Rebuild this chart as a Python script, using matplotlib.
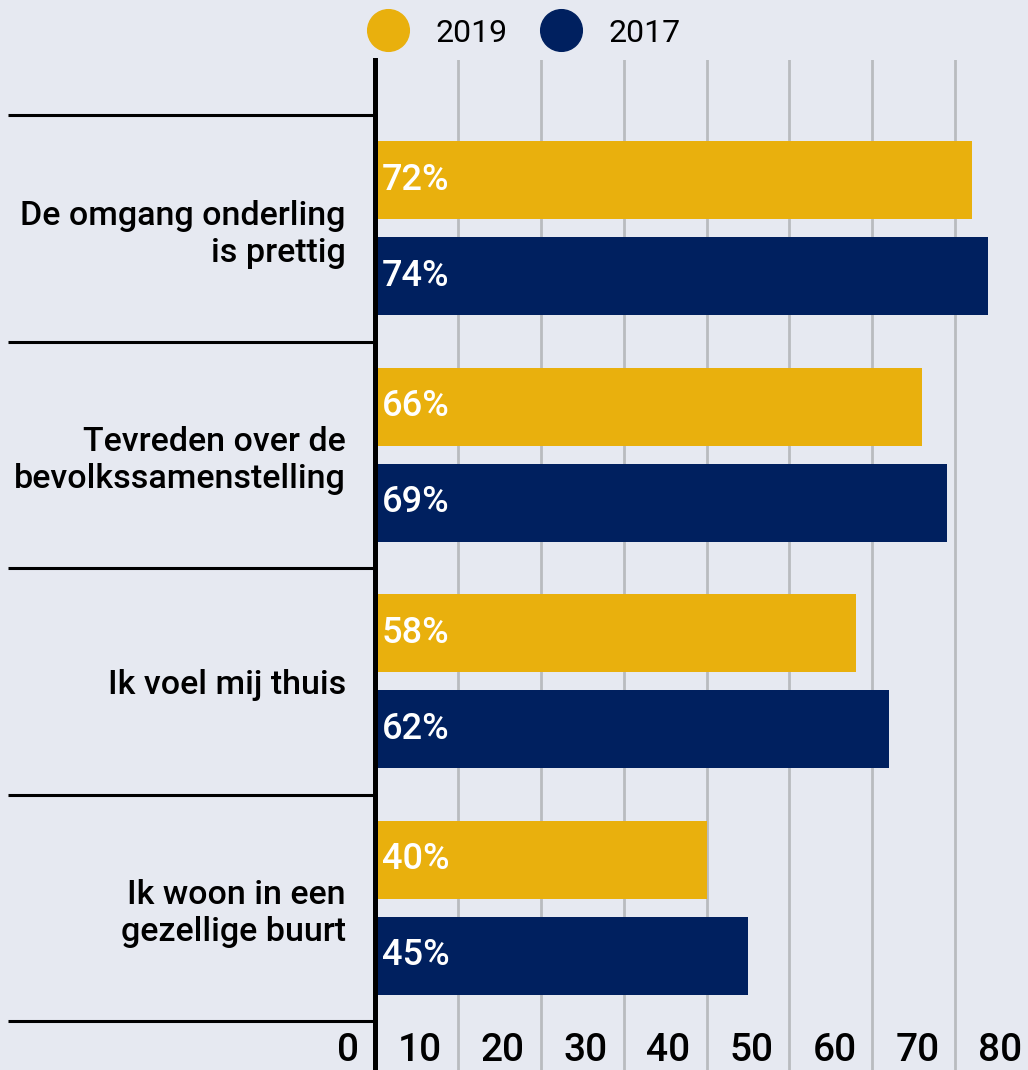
import matplotlib.pyplot as plt
import matplotlib.transforms as mtransforms
from matplotlib.lines import Line2D

plt.rcParams['font.family'] = ['Roboto', 'DejaVu Sans']

categories = ['De omgang onderling\nis prettig',
              'Tevreden over de\nbevolkssamenstelling',
              'Ik voel mij thuis',
              'Ik woon in een\ngezellige buurt']
vals_2019 = [72, 66, 58, 40]
vals_2017 = [74, 69, 62, 45]
xticks = [0, 10, 20, 30, 40, 50, 60, 70, 80]

bg = '#e6e9f1'
yellow = '#e9b00d'
navy = '#00205f'

fig = plt.figure(figsize=(10.28, 10.70), dpi=100, facecolor=bg)
ax = fig.add_axes([375/1028, 0, 653/1028, 1010/1070])
ax.set_facecolor(bg)

pos = list(range(len(categories)))
off = 0.212
h = 0.344
ax.barh([p - off for p in pos], vals_2019, height=h, color=yellow, zorder=3)
ax.barh([p + off for p in pos], vals_2017, height=h, color=navy, zorder=3)

# value labels inside bars
tr = ax.transData + mtransforms.ScaledTranslation(7/100, 0, fig.dpi_scale_trans)
for p, v in zip(pos, vals_2019):
    ax.text(0, p - off, f'{v}%', transform=tr, color='white', fontsize=26,
            fontweight='medium', va='center', ha='left', zorder=4)
for p, v in zip(pos, vals_2017):
    ax.text(0, p + off, f'{v}%', transform=tr, color='white', fontsize=26,
            fontweight='medium', va='center', ha='left', zorder=4)

ax.set_xticks(xticks)
ax.tick_params(axis='x', length=0, labelbottom=False)
ax.grid(axis='x', color='#b9bbbf', lw=2.0, zorder=1)
# limits after set_xticks, otherwise the ticks widen the view
ax.set_xlim(0, 78.77)
ax.set_ylim(3.716, -0.743)

ax.set_yticks(pos, categories)
ax.tick_params(axis='y', length=0, pad=21)
for lab in ax.get_yticklabels():
    lab.set_fontsize(24.5)
    lab.set_fontweight('medium')
    lab.set_linespacing(1.2)

for s in ['top', 'right', 'bottom']:
    ax.spines[s].set_visible(False)
ax.spines['left'].set_linewidth(3.6)
ax.spines['left'].set_color('black')
ax.spines['left'].set_zorder(5)

# x tick labels drawn inside the plot area
xtr = mtransforms.blended_transform_factory(ax.transData, ax.transAxes) + \
    mtransforms.ScaledTranslation(-16/100, 1/100, fig.dpi_scale_trans)
for t in xticks:
    ax.text(t, 0, str(t), transform=xtr, ha='right', va='bottom',
            fontsize=28, fontweight='medium', clip_on=False)

# separators between groups on the left
sep_tr = mtransforms.blended_transform_factory(ax.transAxes, ax.transData)
for y in [-0.5, 0.5, 1.5, 2.5, 3.5]:
    ax.plot([(8 - 375) / 653, 0], [y, y], transform=sep_tr, color='black',
            lw=2.2, clip_on=False, solid_capstyle='butt')

handles = [Line2D([], [], marker='o', ls='', ms=30, color=yellow),
           Line2D([], [], marker='o', ls='', ms=30, color=navy)]
fig.legend(handles, ['2019', '2017'], loc='center', ncol=2,
           bbox_to_anchor=(524/1028, 1 - 33/1070), frameon=False,
           fontsize=23, handlelength=1.3, handletextpad=0.85,
           columnspacing=1.0, borderpad=0)

fig.savefig('out.png', dpi=100, facecolor=bg)
